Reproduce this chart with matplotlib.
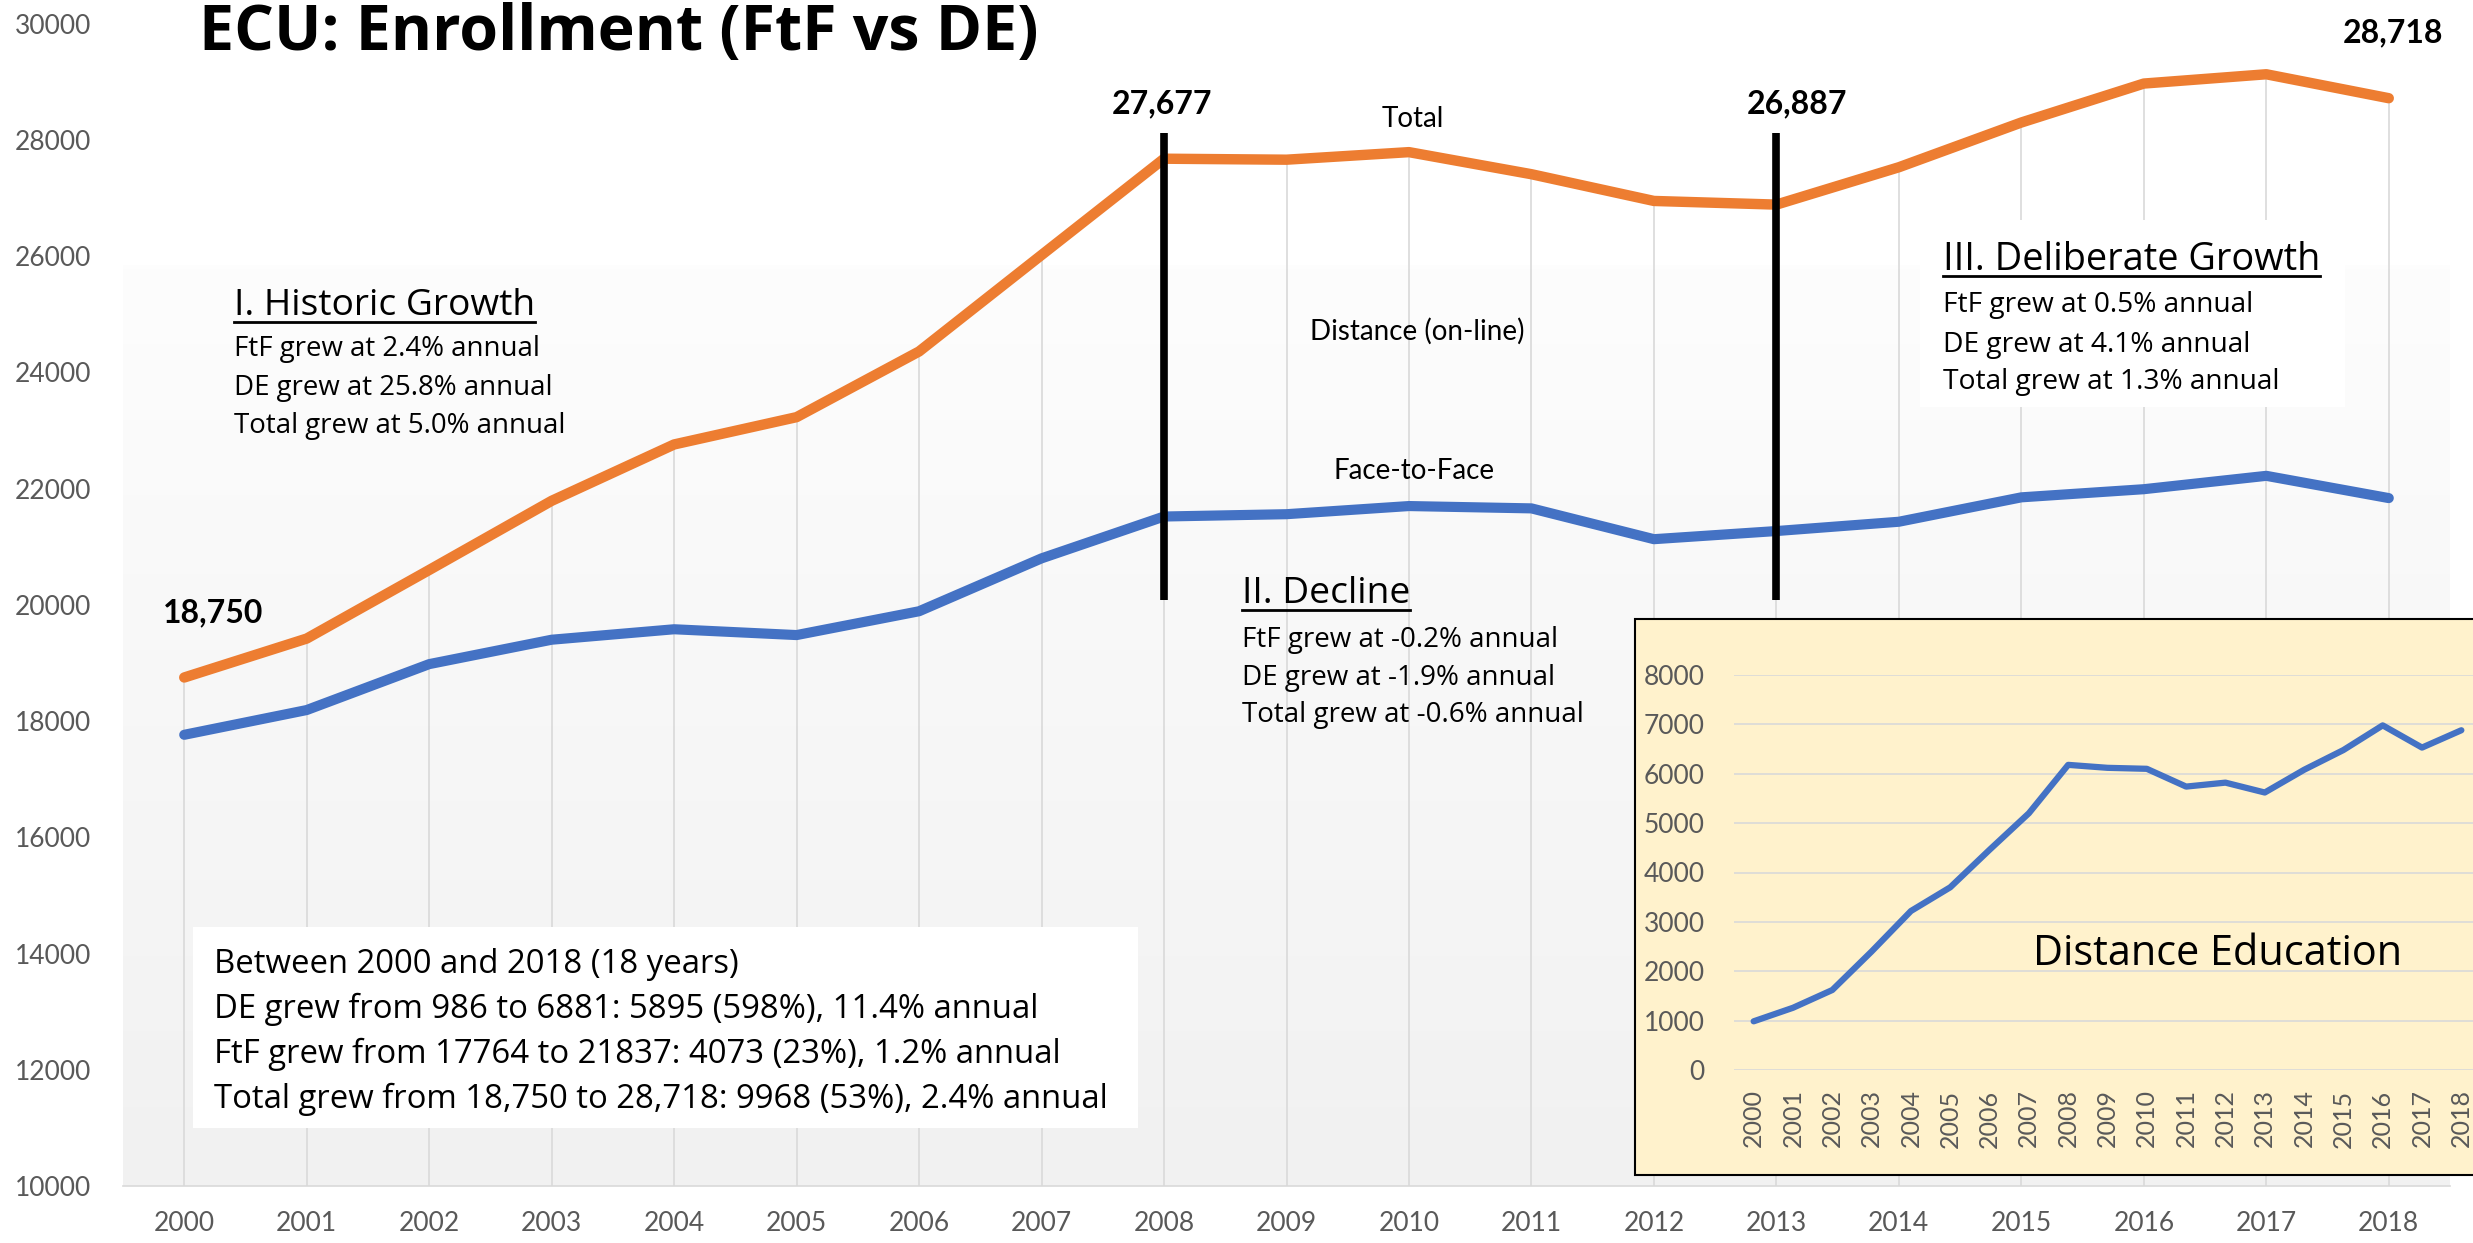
import matplotlib
matplotlib.use("Agg")
import matplotlib.pyplot as plt
import numpy as np
from matplotlib.patches import Rectangle
from matplotlib.lines import Line2D
from matplotlib.colors import LinearSegmentedColormap

# ---------------- data ----------------
years = [2000, 2001, 2002, 2003, 2004, 2005, 2006, 2007, 2008, 2009,
         2010, 2011, 2012, 2013, 2014, 2015, 2016, 2017, 2018]
total = [18750, 19420, 20600, 21790, 22760, 23230, 24360, 26020, 27677, 27660,
         27790, 27410, 26950, 26887, 27530, 28300, 28970, 29130, 28718]
ftf = [17764, 18190, 18980, 19400, 19580, 19480, 19890, 20800, 21520, 21560,
       21700, 21660, 21130, 21270, 21430, 21850, 21990, 22220, 21837]
de = [986, 1260, 1620, 2400, 3220, 3700, 4460, 5200, 6180, 6120,
      6100, 5740, 5820, 5620, 6080, 6480, 6980, 6530, 6881]
main_yticks = [10000, 12000, 14000, 16000, 18000, 20000, 22000, 24000, 26000, 28000, 30000]
inset_yticks = [0, 1000, 2000, 3000, 4000, 5000, 6000, 7000, 8000]
phase_breaks = [2008, 2013]
break_span = [20080, 28120]
labeled_years = [2000, 2008, 2013, 2018]

title = "ECU: Enrollment (FtF vs DE)"
phase1 = ["I. Historic Growth", "FtF grew at 2.4% annual",
          "DE grew at 25.8% annual", "Total grew at 5.0% annual"]
phase2 = ["II. Decline", "FtF grew at -0.2% annual",
          "DE grew at -1.9% annual", "Total grew at -0.6% annual"]
phase3 = ["III. Deliberate Growth", "FtF grew at 0.5% annual",
          "DE grew at 4.1% annual", "Total grew at 1.3% annual"]
summary = ["Between 2000 and 2018 (18 years)",
           "DE grew from 986 to 6881: 5895 (598%), 11.4% annual",
           "FtF grew from 17764 to 21837: 4073 (23%), 1.2% annual",
           "Total grew from 18,750 to 28,718: 9968 (53%), 2.4% annual"]

# ---------------- styling ----------------
plt.rcParams['font.family'] = ['Lato', 'DejaVu Sans']
W, H = 2473, 1243
ORANGE = '#ED7D31'
BLUE = '#4472C4'
GRID = '#D9D9D9'
TICK = '#595959'
WIDE = ['Open Sans', 'DejaVu Sans']


def fx(px):
    return px / W


def fy(py):
    return 1 - py / H


fig = plt.figure(figsize=(W / 100, H / 100), dpi=100)
fig.patch.set_facecolor('white')
renderer = fig.canvas.get_renderer()


def fit(texts, ref, target_px):
    w = ref.get_window_extent(renderer=renderer).width
    s = target_px / w
    for t in texts:
        t.set_fontsize(t.get_fontsize() * s)


ax = fig.add_axes([fx(123), fy(1186), fx(2450) - fx(123), fy(23.7) - fy(1186)])
ax.set_facecolor('white')
x = np.arange(len(years))

# plot-area gradient background
grad = np.linspace(0, 1, 256).reshape(-1, 1)
cmap = LinearSegmentedColormap.from_list('bg', ['#F1F1F1', '#FDFDFD'])
ax.imshow(grad, extent=(0, 1, 0, (1186 - 265) / (1186 - 23.7)), transform=ax.transAxes,
          cmap=cmap, aspect='auto', origin='lower', zorder=0)

# drop lines
ax.vlines(x, main_yticks[0], total, color=GRID, lw=1.2, zorder=1)

ax.plot(x, total, color=ORANGE, lw=7.5, solid_capstyle='round', solid_joinstyle='round', zorder=3)
ax.plot(x, ftf, color=BLUE, lw=7.3, solid_capstyle='round', solid_joinstyle='round', zorder=3)

ax.vlines([years.index(y) for y in phase_breaks], break_span[0], break_span[1],
          color='black', lw=5.5, zorder=4)

ax.set_xlim(-0.5, len(years) - 0.5)
ax.set_ylim(main_yticks[0], main_yticks[-1])
ax.set_xticks(x, [str(y) for y in years])
ax.set_yticks(main_yticks)
ax.tick_params(length=0, labelsize=19, labelcolor=TICK)
ax.tick_params(axis='y', pad=23)
ax.tick_params(axis='x', pad=18)
for s in ['left', 'right', 'top']:
    ax.spines[s].set_visible(False)
ax.spines['bottom'].set_color(GRID)
ax.spines['bottom'].set_linewidth(1.2)

# data labels
offsets = {2000: (20.5, 40), 2008: (-1.8, 33), 2013: (15, 66), 2018: (3, 40)}
for yr in labeled_years:
    i = years.index(yr)
    ax.annotate(f"{total[i]:,}", (i, total[i]), xytext=offsets[yr], textcoords='offset points',
                ha='center', va='baseline', fontsize=23, fontweight='bold', zorder=5,
                annotation_clip=False)

# white boxes
ax.add_patch(Rectangle((fx(1920), fy(407)), fx(2345) - fx(1920), fy(220) - fy(407),
                       transform=fig.transFigure, facecolor='white', edgecolor='none',
                       zorder=2, clip_on=False))
ax.add_patch(Rectangle((fx(193), fy(1128)), fx(1138) - fx(193), fy(927) - fy(1128),
                       transform=fig.transFigure, facecolor='white', edgecolor='none',
                       zorder=2, clip_on=False))

# title
t_title = fig.text(fx(199), fy(50), title, ha='left', va='baseline', fontsize=37,
                   fontweight='bold', family=WIDE)
fit([t_title], t_title, 838)

# series labels
fig.text(fx(1413), fy(127), "Total", ha='center', va='baseline', fontsize=20)
fig.text(fx(1310), fy(340), "Distance (on-line)", ha='left', va='baseline', fontsize=20)
fig.text(fx(1333), fy(479), "Face-to-Face", ha='left', va='baseline', fontsize=20)

# phase texts
heads = []
for lines, x0, bases, wh, ws in [(phase1, 234, [315, 356, 395, 433], 301, 331),
                                 (phase2, 1242, [603, 647, 685, 722], 168, 342),
                                 (phase3, 1943, [270, 312, 352, 389], 377, 337)]:
    h = fig.text(fx(x0), fy(bases[0]), lines[0], ha='left', va='baseline', fontsize=25,
                 family=WIDE)
    fit([h], h, wh)
    heads.append(h)
    subs = [fig.text(fx(x0), fy(b), ln, ha='left', va='baseline', fontsize=19, family=WIDE)
            for ln, b in zip(lines[1:], bases[1:])]
    fit(subs, subs[-1], ws)

summ = [fig.text(fx(214), fy(b), ln, ha='left', va='baseline', fontsize=20, family=WIDE)
        for ln, b in zip(summary, [973, 1018, 1063, 1108])]
fit(summ, summ[-1], 893)

# inset
fig.add_artist(Rectangle((fx(1635), fy(1175)), fx(2490) - fx(1635), fy(619) - fy(1175),
                         transform=fig.transFigure, facecolor='#FFF2CC', edgecolor='black',
                         lw=1.5, zorder=1))
ins = fig.add_axes([fx(1734), fy(1070), fx(2481) - fx(1734), fy(675) - fy(1070)])
ins.set_zorder(2)
ins.patch.set_alpha(0)
ins.plot(x, de, color=BLUE, lw=4.5, solid_capstyle='round', solid_joinstyle='round', zorder=3)
ins.set_xlim(-0.5, len(years) - 0.5)
ins.set_ylim(inset_yticks[0], inset_yticks[-1])
ins.set_yticks(inset_yticks)
ins.set_xticks(x, [str(y) for y in years], rotation=90)
ins.grid(axis='y', color=GRID, lw=1.2)
ins.set_axisbelow(True)
ins.tick_params(length=0, labelcolor=TICK)
ins.tick_params(axis='y', labelsize=19, pad=21)
ins.tick_params(axis='x', labelsize=18, pad=14)
for s in ins.spines.values():
    s.set_visible(False)
t_de = fig.text(fx(2218), fy(965), "Distance Education", ha='center', va='baseline',
                fontsize=28, zorder=4, family=WIDE)
fit([t_de], t_de, 370)

# underlines
fig.canvas.draw()
r = fig.canvas.get_renderer()
for h, py in zip(heads, [322, 610, 276]):
    bb = h.get_window_extent(renderer=r)
    fig.add_artist(Line2D([bb.x0 / W, bb.x1 / W], [fy(py), fy(py)], transform=fig.transFigure,
                          color='black', lw=2, zorder=4))

fig.savefig('out.png', dpi=100)
